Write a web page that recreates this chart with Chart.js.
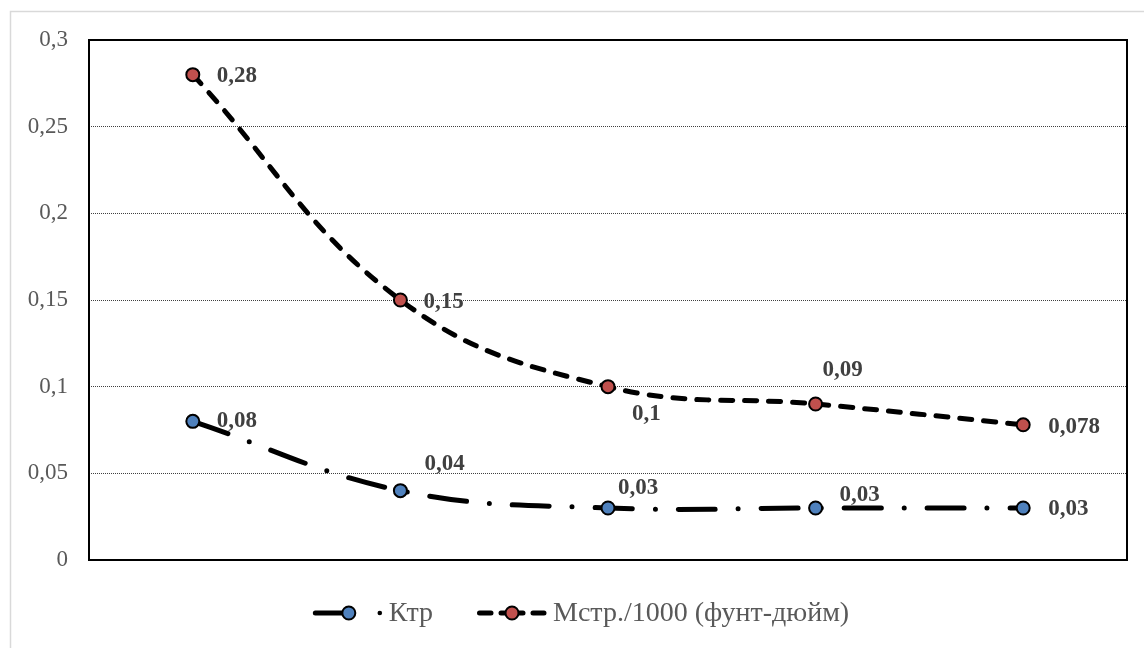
<!DOCTYPE html>
<html>
<head>
<meta charset="utf-8">
<script src="https://cdn.jsdelivr.net/npm/chart.js@4/dist/chart.umd.min.js"></script>
<style>
  html, body { margin: 0; padding: 0; background: #ffffff; }
  #wrap { width: 1144px; height: 648px; position: relative; }
</style>
</head>
<body>
<div id="wrap"><canvas id="c" width="1144" height="648"></canvas></div>
<script>
// Series data
const categories = ['1', '2', '3', '4', '5'];
const ktrValues = [0.08, 0.04, 0.03, 0.03, 0.03];
const mstrValues = [0.28, 0.15, 0.1, 0.09, 0.078];
const seriesNames = ['Ктр', 'Мстр./1000 (фунт-дюйм)'];
const yTicks = [0, 0.05, 0.1, 0.15, 0.2, 0.25, 0.3];

// Value label placement relative to each point (dx, dy in px)
const ktrLabelOffsets = [[24, 0], [24, -27], [10, -20], [24, -13], [25, 1]];
const mstrLabelOffsets = [[24, 1], [23, 2], [24, 27], [7, -34], [25, 2]];

const SERIF = '"Liberation Serif", "Times New Roman", serif';
const BLUE = '#4F81BD';
const RED = '#C0504D';
const KTR_DASH = [37, 23, 0, 23];
const MSTR_DASH = [12, 12];

const fmt = v => String(Number(v.toFixed(3))).replace('.', ',');

// Outer frame, plot frame
const framePlugin = {
  id: 'frames',
  beforeDraw(chart) {
    const ctx = chart.ctx;
    ctx.save();
    ctx.fillStyle = '#ffffff';
    ctx.fillRect(0, 0, chart.width, chart.height);
    ctx.strokeStyle = '#d9d9d9';
    ctx.lineWidth = 1.5;
    ctx.strokeRect(10.5, 11.5, chart.width + 20, chart.height + 20);
    ctx.restore();
  },
  beforeDatasetsDraw(chart) {
    const { ctx, chartArea: a } = chart;
    ctx.save();
    ctx.strokeStyle = '#000000';
    ctx.lineWidth = 2;
    ctx.strokeRect(a.left, a.top, a.right - a.left, a.bottom - a.top);
    ctx.restore();
  }
};

// Bold value labels next to points
const valueLabels = {
  id: 'valueLabels',
  afterDatasetsDraw(chart) {
    const ctx = chart.ctx;
    const offsets = [ktrLabelOffsets, mstrLabelOffsets];
    ctx.save();
    ctx.font = 'bold 23px ' + SERIF;
    ctx.fillStyle = '#404040';
    ctx.textAlign = 'left';
    ctx.textBaseline = 'middle';
    chart.data.datasets.forEach((ds, di) => {
      const meta = chart.getDatasetMeta(di);
      meta.data.forEach((pt, i) => {
        const [dx, dy] = offsets[di][i];
        ctx.fillText(fmt(ds.data[i]), pt.x + dx, pt.y + dy);
      });
    });
    ctx.restore();
  }
};

// Legend below the plot: line sample with marker, then the series name
const bottomLegend = {
  id: 'bottomLegend',
  afterDraw(chart) {
    const ctx = chart.ctx;
    const y = 613;
    const sampleW = 70, textGap = 6, itemGap = 44;
    ctx.save();
    ctx.font = '28px ' + SERIF;
    const w0 = ctx.measureText(seriesNames[0]).width;
    const w1 = ctx.measureText(seriesNames[1]).width;
    const total = sampleW + textGap + w0 + itemGap + sampleW + textGap + w1;
    let x = 581 - total / 2;

    const marker = (mx, color) => {
      ctx.setLineDash([]);
      ctx.beginPath();
      ctx.arc(mx, y, 6.5, 0, Math.PI * 2);
      ctx.fillStyle = color;
      ctx.fill();
      ctx.lineWidth = 2;
      ctx.strokeStyle = '#000000';
      ctx.stroke();
    };

    ctx.strokeStyle = '#000000';
    ctx.lineCap = 'round';
    ctx.lineWidth = 5;

    // Ктр: long dash through marker, then dot
    ctx.setLineDash([]);
    ctx.beginPath();
    ctx.moveTo(x + 2.5, y); ctx.lineTo(x + 38, y);
    ctx.stroke();
    ctx.beginPath();
    ctx.arc(x + 67, y, 2.3, 0, Math.PI * 2);
    ctx.fillStyle = '#000000';
    ctx.fill();
    marker(x + 36, BLUE);
    ctx.fillStyle = '#595959';
    ctx.textAlign = 'left';
    ctx.textBaseline = 'middle';
    ctx.fillText(seriesNames[0], x + sampleW + textGap, y + 1);

    // Мстр: dash, marker, dash
    x += sampleW + textGap + w0 + itemGap;
    ctx.strokeStyle = '#000000';
    ctx.lineWidth = 5;
    ctx.lineCap = 'round';
    ctx.beginPath();
    ctx.moveTo(x + 2.5, y); ctx.lineTo(x + 14, y);
    ctx.moveTo(x + 56, y); ctx.lineTo(x + 67, y);
    ctx.stroke();
    ctx.beginPath();
    ctx.moveTo(x + 24, y); ctx.lineTo(x + 46, y);
    ctx.stroke();
    marker(x + 35, RED);
    ctx.fillStyle = '#595959';
    ctx.fillText(seriesNames[1], x + sampleW + textGap, y + 1);
    ctx.restore();
  }
};

new Chart(document.getElementById('c'), {
  type: 'line',
  data: {
    labels: categories,
    datasets: [
      {
        label: seriesNames[0],
        data: ktrValues,
        borderColor: '#000000',
        borderWidth: 5,
        borderDash: KTR_DASH,
        borderCapStyle: 'round',
        tension: 0.4,
        pointRadius: 6.5,
        pointHoverRadius: 6.5,
        pointBackgroundColor: BLUE,
        pointBorderColor: '#000000',
        pointBorderWidth: 2,
        fill: false
      },
      {
        label: seriesNames[1],
        data: mstrValues,
        borderColor: '#000000',
        borderWidth: 5,
        borderDash: MSTR_DASH,
        borderCapStyle: 'round',
        tension: 0.4,
        pointRadius: 6.5,
        pointHoverRadius: 6.5,
        pointBackgroundColor: RED,
        pointBorderColor: '#000000',
        pointBorderWidth: 2,
        fill: false
      }
    ]
  },
  options: {
    responsive: false,
    animation: false,
    devicePixelRatio: 1,
    layout: { padding: { left: 0, right: 17, top: 40, bottom: 88 } },
    plugins: {
      legend: { display: false },
      tooltip: { enabled: false }
    },
    scales: {
      x: {
        type: 'category',
        offset: true,
        display: false
      },
      y: {
        min: yTicks[0],
        max: yTicks[yTicks.length - 1],
        afterFit(scale) { scale.width = 89; },
        afterBuildTicks(scale) { scale.ticks = yTicks.map(v => ({ value: v })); },
        border: { display: false, dash: [1, 1] },
        grid: {
          drawTicks: false,
          color: ctx => (ctx.tick && (ctx.tick.value === 0 || ctx.tick.value === 0.3)) ? 'rgba(0,0,0,0)' : '#404040',
          lineWidth: 1
        },
        ticks: {
          padding: 21,
          color: '#595959',
          font: { family: SERIF, size: 23 },
          callback: v => fmt(v)
        }
      }
    }
  },
  plugins: [framePlugin, valueLabels, bottomLegend]
});
</script>
</body>
</html>
